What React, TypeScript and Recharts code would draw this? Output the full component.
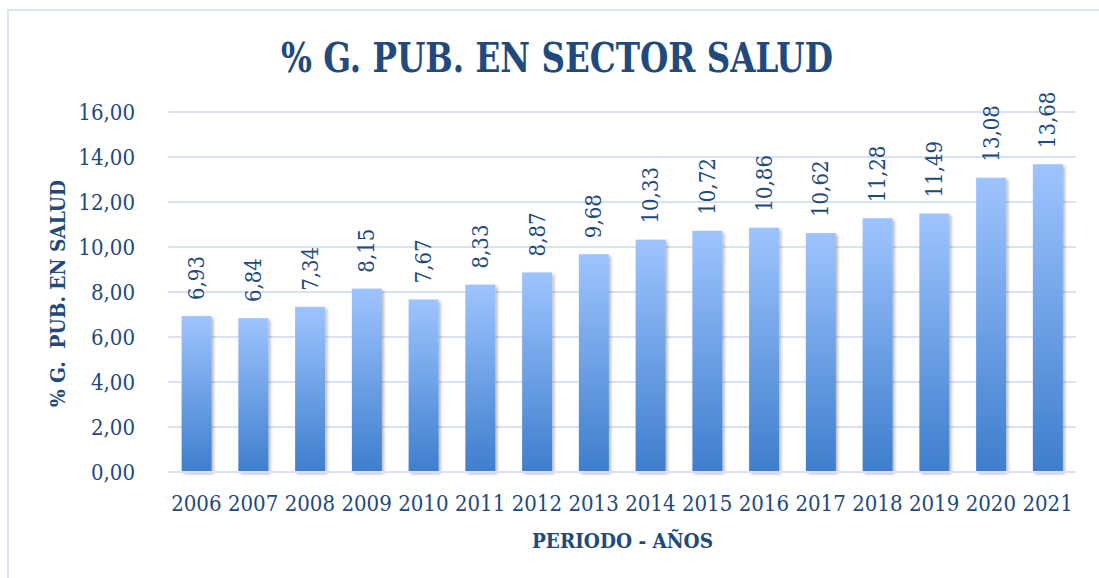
import React from 'react';
import { BarChart, Bar, XAxis, YAxis, CartesianGrid, LabelList } from 'recharts';

const years = ['2006', '2007', '2008', '2009', '2010', '2011', '2012', '2013', '2014', '2015', '2016', '2017', '2018', '2019', '2020', '2021'];
const values = [6.93, 6.84, 7.34, 8.15, 7.67, 8.33, 8.87, 9.68, 10.33, 10.72, 10.86, 10.62, 11.28, 11.49, 13.08, 13.68];
const yTicks = [0, 2, 4, 6, 8, 10, 12, 14, 16];

const titleText = '% G. PUB. EN SECTOR SALUD';
const yLabelText = '% G.  PUB. EN SALUD';
const xLabelText = 'PERIODO - AÑOS';

const data = years.map((y, i) => ({ year: y, value: values[i] }));

const FONT = "'DejaVu Serif Condensed', 'DejaVu Serif', serif";
const TEXT = '#21497c';
const fmt = (v: number) => v.toFixed(2).replace('.', ',');

const ValueLabel = (props: any) => {
  const { x, y, width, value } = props;
  const cx = x + width / 2;
  const ty = y - 16;
  return (
    <text
      x={cx}
      y={ty}
      transform={`rotate(-90, ${cx}, ${ty})`}
      textAnchor="start"
      dominantBaseline="central"
      fill={TEXT}
      fontSize={22}
      fontFamily={FONT}
      style={{ fontStretch: 'condensed' }}
    >
      {fmt(value)}
    </text>
  );
};

const BarShape = (props: any) => {
  const { x, y, width, height } = props;
  return <rect x={x} y={y} width={width} height={height} fill="url(#barGrad)" filter="url(#barShadow)" />;
};

export default function App() {
  return (
    <div style={{ position: 'absolute', left: 0, top: 0, width: 1099, height: 578, background: '#fff', overflow: 'hidden' }}>
      <div
        style={{
          position: 'absolute',
          left: 7,
          top: 9,
          width: 1200,
          height: 700,
          borderLeft: '2px solid #dae3f3',
          borderTop: '2px solid #dae3f3',
        }}
      />
      <BarChart
        width={1099}
        height={578}
        data={data}
        margin={{ top: 112, right: 23, left: 0, bottom: 0 }}
        barCategoryGap="24%"
        style={{ position: 'absolute', left: 0, top: 0 }}
      >
        <defs>
          <linearGradient id="barGrad" x1="0" y1="0" x2="0" y2="1">
            <stop offset="0%" stopColor="#9ec4ff" />
            <stop offset="100%" stopColor="#3e7ecc" />
          </linearGradient>
          <filter id="barShadow" x="-20%" y="-5%" width="150%" height="115%">
            <feDropShadow dx="2" dy="2" stdDeviation="1.8" floodColor="#000" floodOpacity="0.28" />
          </filter>
        </defs>
        <CartesianGrid vertical={false} stroke="#d9e2f3" strokeWidth={1.8} />
        <XAxis
          dataKey="year"
          height={106}
          axisLine={{ stroke: '#d9e2f3', strokeWidth: 1.8 }}
          tickLine={false}
          tickSize={0}
          tickMargin={23}
          interval={0}
          tick={{ fill: TEXT, fontSize: 22, fontFamily: FONT, style: { fontStretch: 'condensed' } }}
        />
        <YAxis
          width={168}
          domain={[0, 16]}
          ticks={yTicks}
          axisLine={false}
          tickLine={false}
          tickSize={0}
          tickMargin={33}
          tickFormatter={fmt}
          tick={{ fill: TEXT, fontSize: 22, fontFamily: FONT, style: { fontStretch: 'condensed' } }}
        />
        <Bar dataKey="value" isAnimationActive={false} shape={<BarShape />}>
          <LabelList dataKey="value" content={<ValueLabel />} />
        </Bar>
      </BarChart>
      <svg width={1099} height={578} style={{ position: 'absolute', left: 0, top: 0, pointerEvents: 'none' }}>
        <text
          x={557}
          y={72}
          textAnchor="middle"
          fontSize={41}
          fontWeight="bold"
          fontFamily={FONT}
          fill={TEXT}
          textLength={552}
          lengthAdjust="spacingAndGlyphs"
          style={{ fontStretch: 'condensed' }}
        >
          {titleText}
        </text>
        <text
          x={57}
          y={293.5}
          transform="rotate(-90, 57, 293.5)"
          textAnchor="middle"
          dominantBaseline="central"
          fontSize={21}
          fontWeight="bold"
          fontFamily={FONT}
          fill={TEXT}
          textLength={227}
          lengthAdjust="spacingAndGlyphs"
          style={{ fontStretch: 'condensed', whiteSpace: 'pre' }}
        >
          {yLabelText}
        </text>
        <text
          x={622.5}
          y={548}
          textAnchor="middle"
          fontSize={21}
          fontWeight="bold"
          fontFamily={FONT}
          fill={TEXT}
          textLength={181}
          lengthAdjust="spacingAndGlyphs"
          style={{ fontStretch: 'condensed' }}
        >
          {xLabelText}
        </text>
      </svg>
    </div>
  );
}
